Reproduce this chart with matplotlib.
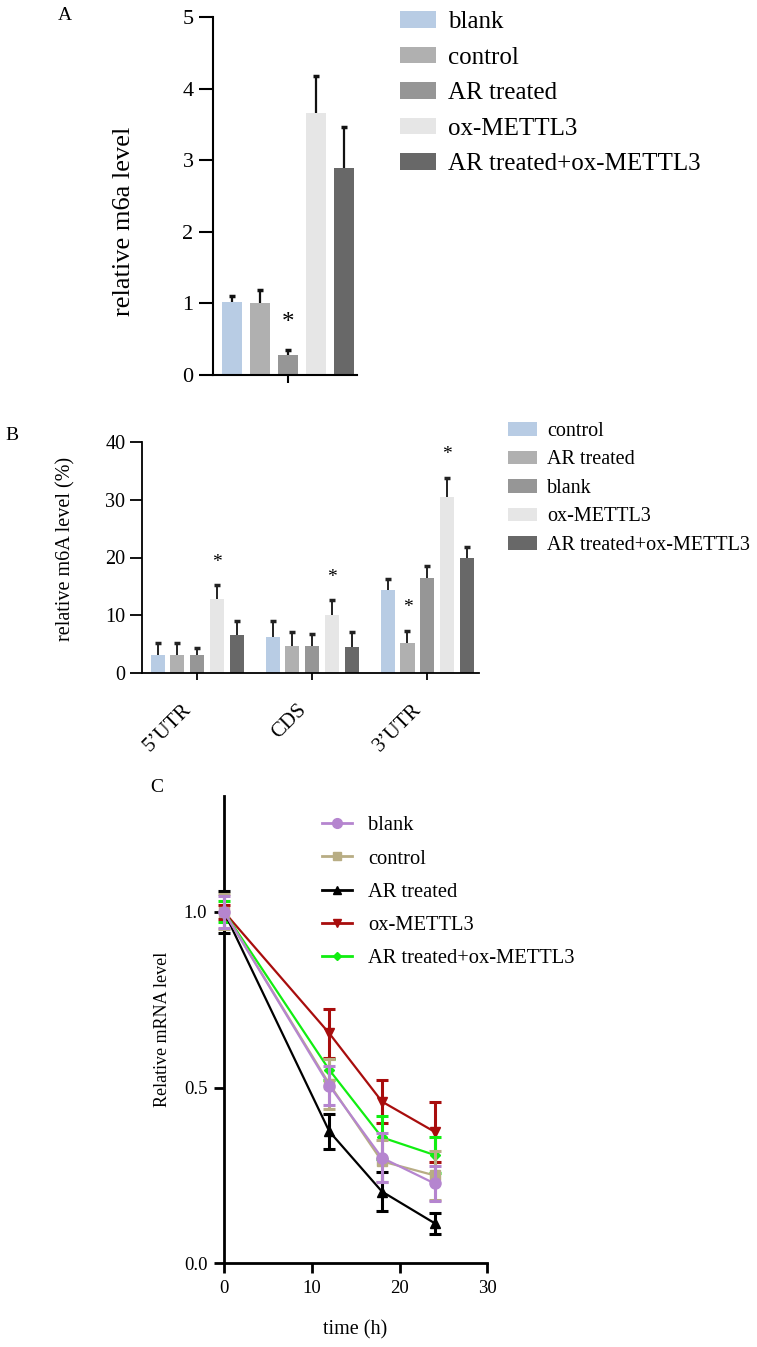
import numpy as np
import matplotlib
matplotlib.use("Agg")
from matplotlib import pyplot as plt
from matplotlib.patches import Patch
from matplotlib.lines import Line2D
from matplotlib.transforms import offset_copy

plt.rcParams['font.family'] = ['Liberation Serif', 'DejaVu Serif']

W, H = 757, 1347

# ---- panel A data
a_labels = ['blank', 'control', 'AR treated', 'ox-METTL3', 'AR treated+ox-METTL3']
a_vals = [1.02, 1.0, 0.28, 3.66, 2.89]
a_errs = [0.09, 0.19, 0.07, 0.51, 0.58]
a_colors = ['#b8cce4', '#b0b0b0', '#969696', '#e6e6e6', '#686868']
a_star = [2]  # index of bar with *

# ---- panel B data
b_regions = ['5\u2019UTR', 'CDS', '3\u2019UTR']
b_labels = ['control', 'AR treated', 'blank', 'ox-METTL3', 'AR treated+ox-METTL3']
b_control = [3.2, 6.2, 14.4]
b_ar = [3.2, 4.8, 5.3]
b_blank = [3.2, 4.8, 16.5]
b_ox = [12.9, 10.0, 30.5]
b_arox = [6.7, 4.6, 19.9]
b_control_err = [2.0, 2.9, 1.9]
b_ar_err = [2.1, 2.4, 2.0]
b_blank_err = [1.1, 2.0, 2.0]
b_ox_err = [2.3, 2.6, 3.3]
b_arox_err = [2.4, 2.6, 1.9]
b_colors = ['#b8cce4', '#b0b0b0', '#969696', '#e6e6e6', '#686868']
b_stars = [(0, 3), (1, 3), (2, 1), (2, 3)]  # (region, series)

# ---- panel C data
times = [0, 12, 18, 24]
c_blank = [1.0, 0.505, 0.30, 0.227]
c_control = [1.0, 0.51, 0.29, 0.25]
c_ar = [1.0, 0.375, 0.204, 0.114]
c_ox = [1.0, 0.654, 0.46, 0.374]
c_arox = [1.0, 0.55, 0.358, 0.308]
c_blank_err = [0.045, 0.055, 0.07, 0.05]
c_control_err = [0.05, 0.07, 0.06, 0.07]
c_ar_err = [0.06, 0.05, 0.055, 0.03]
c_ox_err = [0.02, 0.07, 0.06, 0.086]
c_arox_err = [0.03, 0.03, 0.06, 0.05]
c_labels = ['blank', 'control', 'AR treated', 'ox-METTL3', 'AR treated+ox-METTL3']
c_colors = ['#b585cf', '#b8ad84', '#000000', '#a80d0d', '#11ee11']
c_markers = ['o', 's', '^', 'v', 'D']


def fbox(x0, y0, x1, y1):
    # pixel box -> figure fraction
    return [x0 / W, 1 - y1 / H, (x1 - x0) / W, (y1 - y0) / H]


def upper_only(bc):
    # hide the lower caps that sit on top of the bars
    caps = bc.errorbar.lines[1]
    if len(caps):
        caps[0].set_visible(False)


fig = plt.figure(figsize=(W / 100, H / 100), dpi=100)

# ================= A
axA = fig.add_axes(fbox(213, 17, 357, 375))
xa = np.arange(len(a_vals))
bc = axA.bar(xa, a_vals, width=0.72, color=a_colors,
             yerr=[np.zeros(len(a_errs)), a_errs],
             error_kw=dict(ecolor='#111111', elinewidth=1.6, capsize=2.5, capthick=2.5))
upper_only(bc)
for i in a_star:
    axA.text(xa[i], a_vals[i] + a_errs[i] + 0.37, '*', ha='center', va='center', fontsize=18)
axA.set_xlim(-0.68, 4.48)
axA.set_ylim(0, 5)
axA.set_yticks([0, 1, 2, 3, 4, 5])
axA.set_xticks([2])
axA.set_xticklabels([''])
for s in ['top', 'right']:
    axA.spines[s].set_visible(False)
axA.spines['left'].set_linewidth(1.5)
axA.spines['bottom'].set_linewidth(1.5)
axA.tick_params(axis='y', length=10, width=1.5, labelsize=16, pad=4)
axA.tick_params(axis='x', length=6, width=1.5)
axA.set_ylabel('relative m6a level', fontsize=19)
axA.yaxis.set_label_coords(-0.54, 0.43)
fig.text(65 / W, 1 - 15 / H, 'A', fontsize=14, ha='center', va='center')
fig.legend(handles=[Patch(facecolor=c, edgecolor='none') for c in a_colors], labels=a_labels,
           loc='upper left', bbox_to_anchor=(400 / W, 1 - 11 / H), frameon=False,
           fontsize=18, borderpad=0, borderaxespad=0, labelspacing=0.54,
           handlelength=1.44, handleheight=0.64, handletextpad=0.48)

# ================= B
axB = fig.add_axes(fbox(142, 441.7, 479, 673.3))
xb = np.arange(len(b_regions))
b_series = [b_control, b_ar, b_blank, b_ox, b_arox]
b_series_err = [b_control_err, b_ar_err, b_blank_err, b_ox_err, b_arox_err]
step = 0.1717
for i in range(5):
    bc = axB.bar(xb + (i - 2) * step, b_series[i], width=0.122, color=b_colors[i],
                 yerr=[np.zeros(3), b_series_err[i]],
                 error_kw=dict(ecolor='#222222', elinewidth=1.4, capsize=2.2, capthick=2.5))
    upper_only(bc)
for g, s in b_stars:
    axB.text(xb[g] + (s - 2) * step, b_series[s][g] + b_series_err[s][g] + 4.0, '*',
             ha='center', va='center', fontsize=14)
axB.set_xlim(-0.48, 2.45)
axB.set_ylim(0, 40)
axB.set_yticks([0, 10, 20, 30, 40])
axB.set_xticks(xb)
axB.set_xticklabels([])
# rotated region names, nudged down-left of the ticks like the original
lab_tr = offset_copy(axB.get_xaxis_transform(), fig=fig, x=-15, y=-27, units='dots')
for g, name in enumerate(b_regions):
    axB.text(xb[g], 0, name, transform=lab_tr, rotation=45, ha='right', va='top',
             rotation_mode='anchor', fontsize=15)
for s in ['top', 'right']:
    axB.spines[s].set_visible(False)
axB.spines['left'].set_linewidth(1.3)
axB.spines['bottom'].set_linewidth(1.3)
axB.tick_params(axis='y', length=9, width=1.3, labelsize=14.5, pad=3)
axB.tick_params(axis='x', length=5, width=1.3)
axB.set_ylabel('relative m6A level (%)', fontsize=14.5)
axB.yaxis.set_label_coords(-0.198, 0.539)
fig.text(12 / W, 1 - 435 / H, 'B', fontsize=14, ha='center', va='center')
fig.legend(handles=[Patch(facecolor=c, edgecolor='none') for c in b_colors], labels=b_labels,
           loc='upper left', bbox_to_anchor=(508 / W, 1 - 422 / H), frameon=False,
           fontsize=14.5, borderpad=0, borderaxespad=0, labelspacing=0.47,
           handlelength=1.45, handleheight=0.65, handletextpad=0.5)

# ================= C
axC = fig.add_axes(fbox(224, 795.7, 487.3, 1263.3))
c_series = [c_blank, c_control, c_ar, c_ox, c_arox]
c_series_err = [c_blank_err, c_control_err, c_ar_err, c_ox_err, c_arox_err]
c_z = [6, 5, 4, 3, 3.5]
c_ms = [8, 7, 7, 7, 5]
for i in range(5):
    axC.errorbar(times, c_series[i], yerr=c_series_err[i], color=c_colors[i],
                 marker=c_markers[i], markersize=c_ms[i], linewidth=1.6,
                 elinewidth=2.2, capsize=4, capthick=2.2, zorder=c_z[i], clip_on=False)
axC.set_xlim(0, 30)
axC.set_ylim(0, 1.33)
axC.set_xticks([0, 10, 20, 30])
axC.set_yticks([0.0, 0.5, 1.0])
for s in ['top', 'right']:
    axC.spines[s].set_visible(False)
axC.spines['left'].set_linewidth(2)
axC.spines['bottom'].set_linewidth(2)
axC.tick_params(axis='both', length=7, width=2, labelsize=13.5, pad=5)
axC.set_ylabel('Relative mRNA level', fontsize=13)
axC.yaxis.set_label_coords(-0.203, 0.5)
axC.set_xlabel('time (h)', fontsize=14.5)
axC.xaxis.set_label_coords(0.4975, -0.122)
fig.text(157 / W, 1 - 788 / H, 'C', fontsize=14, ha='center', va='center')
c_handles = [Line2D([0], [0], color=c_colors[i], marker=c_markers[i], markersize=c_ms[i] - 1,
                    linewidth=2) for i in range(5)]
fig.legend(handles=c_handles, labels=c_labels,
           loc='upper left', bbox_to_anchor=(322 / W, 1 - 816 / H), frameon=False,
           fontsize=14.8, borderpad=0, borderaxespad=0, labelspacing=0.67,
           handlelength=1.46, handletextpad=0.78)

fig.savefig('out.png', dpi=100)
